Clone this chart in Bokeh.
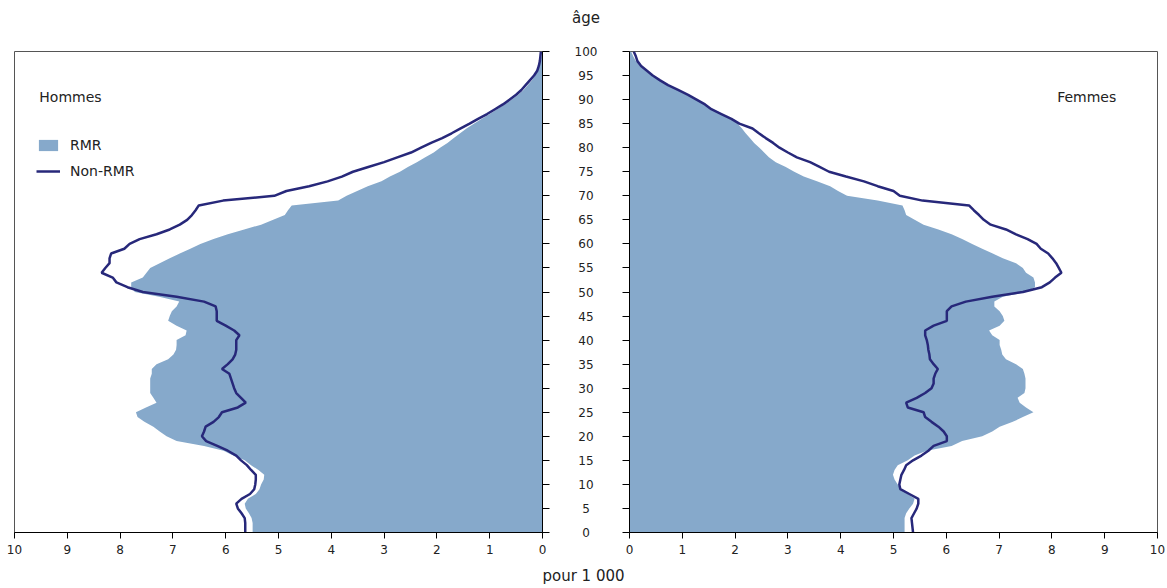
from bokeh.plotting import figure
from bokeh.models import Range1d, FixedTicker, Legend, LegendItem, Label, Div, ColumnDataSource
from bokeh.layouts import row, column
from bokeh.embed import file_html
from bokeh.resources import INLINE

# ---------------- data (per 1 000, by single year of age 0..100) ----------------
ages = list(range(0, 101))
age_ticks = list(range(0, 101, 5))
x_ticks = list(range(0, 11))

hommes_rmr = [5.49, 5.49, 5.49, 5.51, 5.56, 5.62, 5.64, 5.58, 5.43, 5.36,
              5.33, 5.28, 5.27, 5.38, 5.52, 5.64, 5.86, 6.04, 6.41, 6.93,
              7.12, 7.25, 7.37, 7.54, 7.67, 7.70, 7.51, 7.31, 7.37, 7.43,
              7.43, 7.43, 7.43, 7.40, 7.40, 7.31, 7.09, 6.99, 6.94, 6.93,
              6.93, 6.76, 6.74, 6.93, 7.09, 7.06, 7.02, 6.93, 6.88, 7.26,
              7.72, 7.79, 7.79, 7.57, 7.50, 7.43, 7.25, 7.06, 6.87, 6.67,
              6.48, 6.23, 5.96, 5.65, 5.33, 5.10, 4.88, 4.82, 4.75, 3.87,
              3.71, 3.51, 3.31, 3.05, 2.89, 2.70, 2.55, 2.38, 2.22, 2.06,
              1.94, 1.80, 1.68, 1.56, 1.44, 1.30, 1.15, 1.00, 0.86, 0.72,
              0.58, 0.46, 0.36, 0.28, 0.20, 0.14, 0.09, 0.06, 0.04, 0.02,
              0.01]

hommes_non_rmr = [5.63, 5.63, 5.63, 5.64, 5.70, 5.77, 5.80, 5.70, 5.54, 5.46,
                  5.44, 5.43, 5.43, 5.52, 5.60, 5.71, 5.80, 5.96, 6.16, 6.37,
                  6.45, 6.41, 6.38, 6.23, 6.13, 6.07, 5.77, 5.62, 5.71, 5.80,
                  5.84, 5.87, 5.90, 5.93, 6.07, 5.96, 5.87, 5.82, 5.80, 5.80,
                  5.80, 5.74, 5.84, 6.00, 6.17, 6.17, 6.17, 6.19, 6.41, 6.93,
                  7.57, 7.86, 8.07, 8.14, 8.35, 8.28, 8.20, 8.20, 8.17, 7.92,
                  7.82, 7.63, 7.31, 7.06, 6.87, 6.73, 6.64, 6.57, 6.51, 6.05,
                  5.08, 4.85, 4.42, 4.07, 3.80, 3.59, 3.30, 3.00, 2.75, 2.49,
                  2.30, 2.11, 1.90, 1.72, 1.55, 1.38, 1.22, 1.05, 0.90, 0.75,
                  0.62, 0.50, 0.40, 0.32, 0.24, 0.16, 0.10, 0.07, 0.05, 0.04,
                  0.03]

femmes_rmr = [5.21, 5.21, 5.21, 5.21, 5.24, 5.30, 5.37, 5.40, 5.27, 5.15,
              5.08, 5.02, 4.99, 5.02, 5.08, 5.27, 5.40, 5.63, 6.10, 6.30,
              6.68, 6.87, 7.01, 7.26, 7.45, 7.65, 7.51, 7.39, 7.35, 7.48,
              7.50, 7.50, 7.50, 7.48, 7.45, 7.32, 7.13, 7.06, 7.04, 7.01,
              7.01, 6.87, 6.81, 7.01, 7.10, 7.07, 7.01, 6.91, 6.91, 7.07,
              7.51, 7.68, 7.68, 7.65, 7.51, 7.45, 7.32, 7.07, 6.88, 6.68,
              6.49, 6.30, 6.10, 5.85, 5.57, 5.40, 5.24, 5.21, 5.17, 4.70,
              4.12, 3.95, 3.80, 3.55, 3.30, 3.12, 2.96, 2.77, 2.64, 2.55,
              2.46, 2.36, 2.28, 2.20, 2.13, 2.05, 1.95, 1.70, 1.55, 1.42,
              1.25, 1.08, 0.90, 0.72, 0.56, 0.42, 0.30, 0.20, 0.12, 0.07,
              0.03]

femmes_non_rmr = [5.37, 5.36, 5.35, 5.34, 5.39, 5.44, 5.47, 5.47, 5.30, 5.13,
                  5.11, 5.13, 5.15, 5.20, 5.24, 5.37, 5.53, 5.66, 5.76, 6.01,
                  6.01, 5.95, 5.85, 5.72, 5.60, 5.57, 5.27, 5.24, 5.44, 5.60,
                  5.72, 5.76, 5.76, 5.79, 5.84, 5.76, 5.69, 5.68, 5.66, 5.65,
                  5.63, 5.60, 5.60, 5.76, 6.01, 6.01, 6.01, 6.10, 6.37, 6.87,
                  7.45, 7.81, 7.96, 8.06, 8.18, 8.13, 8.08, 8.01, 7.93, 7.79,
                  7.71, 7.54, 7.32, 7.13, 6.84, 6.71, 6.62, 6.52, 6.43, 5.55,
                  5.12, 5.00, 4.70, 4.44, 4.10, 3.78, 3.60, 3.42, 3.17, 3.00,
                  2.84, 2.72, 2.58, 2.45, 2.33, 2.08, 1.93, 1.74, 1.55, 1.43,
                  1.27, 1.11, 0.92, 0.73, 0.58, 0.44, 0.33, 0.22, 0.15, 0.12,
                  0.08]

series_labels = ["RMR", "Non-RMR"]
panel_titles = ["Hommes", "Femmes"]
age_title = "âge"
unit_title = "pour 1 000"

# ---------------- styling ----------------
FONT = "DejaVu Sans"
FILL = "#86a9cb"
LINE = "#27287a"
TXT = "#222222"
FRAME_H = 481            # 0..100 years -> 4.81 px per year
PX_YEAR = FRAME_H / 100.0
TOP = 51
BOTTOM = 27


def side_figure(x_range, y_axis_loc, mb_left, mb_right):
    p = figure(frame_width=528, frame_height=FRAME_H,
               x_range=x_range, y_range=Range1d(0, 100),
               y_axis_location=y_axis_loc,
               min_border_left=mb_left, min_border_right=mb_right,
               min_border_top=TOP, min_border_bottom=BOTTOM,
               output_backend="svg", toolbar_location=None)
    p.grid.visible = False
    p.outline_line_color = "#555555"
    p.outline_line_width = 1
    p.background_fill_color = "white"
    p.border_fill_color = "white"

    xa = p.xaxis[0]
    xa.ticker = FixedTicker(ticks=x_ticks)
    xa.major_tick_out = 6
    xa.major_tick_in = 0
    xa.minor_tick_line_color = None
    xa.axis_line_color = "black"
    xa.major_tick_line_color = "black"
    xa.major_label_text_font = FONT
    xa.major_label_text_font_size = "12px"
    xa.major_label_text_color = TXT
    xa.major_label_standoff = 6

    # vertical axis at the age side: tick marks only (labels sit in the middle strip)
    ya = p.yaxis[0]
    ya.ticker = FixedTicker(ticks=[], minor_ticks=age_ticks)
    ya.minor_tick_out = 7
    ya.minor_tick_in = 0
    ya.minor_tick_line_color = "black"
    ya.major_tick_line_color = None
    ya.axis_line_color = "black"
    ya.major_label_standoff = 0
    return p


# ---- left: Hommes ----
pl = side_figure(Range1d(10, 0), "right", 14, 10)
src_h = ColumnDataSource(dict(age=ages, rmr=hommes_rmr, non=hommes_non_rmr))
area_h = pl.harea(x1=0, x2="rmr", y="age", source=src_h, fill_color=FILL)
line_h = pl.line(x="non", y="age", source=src_h, line_color=LINE, line_width=2.5)
legend = Legend(items=[LegendItem(label=series_labels[0], renderers=[area_h]),
                       LegendItem(label=series_labels[1], renderers=[line_h])],
                location=(22, 353), glyph_width=24, glyph_height=14, spacing=10,
                label_standoff=10, padding=0, margin=0,
                border_line_color=None, background_fill_alpha=0,
                label_text_font=FONT, label_text_font_size="14px",
                label_text_color=TXT)
pl.add_layout(legend)
pl.add_layout(Label(x=9.53, y=90.6, text=panel_titles[0], text_font=FONT,
                    text_font_size="14px", text_color=TXT,
                    text_align="left", text_baseline="middle"))

# ---- middle strip: age labels + "âge" (same px-per-year scale, taller frame) ----
M_TOP = 4                       # frame starts 47 px above the side frames
M_EXTRA_TOP = TOP - M_TOP       # px above age 100
M_EXTRA_BOT = 12                # px below age 0
m_frame_h = FRAME_H + M_EXTRA_TOP + M_EXTRA_BOT
m_bottom = TOP + FRAME_H + BOTTOM - M_TOP - m_frame_h
pm = figure(frame_width=67, frame_height=m_frame_h,
            x_range=Range1d(0, 1),
            y_range=Range1d(-M_EXTRA_BOT / PX_YEAR, 100 + M_EXTRA_TOP / PX_YEAR),
            x_axis_location=None, y_axis_location=None, title=None,
            min_border_left=0, min_border_right=0,
            min_border_top=M_TOP, min_border_bottom=m_bottom,
            output_backend="svg", toolbar_location=None)
pm.grid.visible = False
pm.outline_line_color = None
src_t = ColumnDataSource(dict(y=age_ticks, x=[0.5] * len(age_ticks),
                              t=[str(a) for a in age_ticks]))
pm.text(x="x", y="y", text="t", source=src_t, text_align="center",
        text_baseline="middle", text_font_size="12px", text_color=TXT,
        text_font={"value": FONT})
pm.add_layout(Label(x=0.5, y=107.0, text=age_title, text_font=FONT,
                    text_font_size="15px", text_color=TXT,
                    text_align="center", text_baseline="middle"))

# ---- right: Femmes ----
pr = side_figure(Range1d(0, 10), "left", 10, 9)
src_f = ColumnDataSource(dict(age=ages, rmr=femmes_rmr, non=femmes_non_rmr))
pr.harea(x1=0, x2="rmr", y="age", source=src_f, fill_color=FILL)
pr.line(x="non", y="age", source=src_f, line_color=LINE, line_width=2.5)
pr.add_layout(Label(x=8.1, y=90.6, text=panel_titles[1], text_font=FONT,
                    text_font_size="14px", text_color=TXT,
                    text_align="left", text_baseline="middle"))

unit = Div(text='<div style="width:1157px;text-align:center;font-family:\'DejaVu Sans\';'
                'font-size:15px;line-height:24px;color:#222;">' + unit_title + '</div>',
           width=1157, height=24)

layout = column(row(pl, column(pm, spacing=0), pr, spacing=0), unit, spacing=0)

with open("out.html", "w") as f:
    f.write(file_html(layout, INLINE))
